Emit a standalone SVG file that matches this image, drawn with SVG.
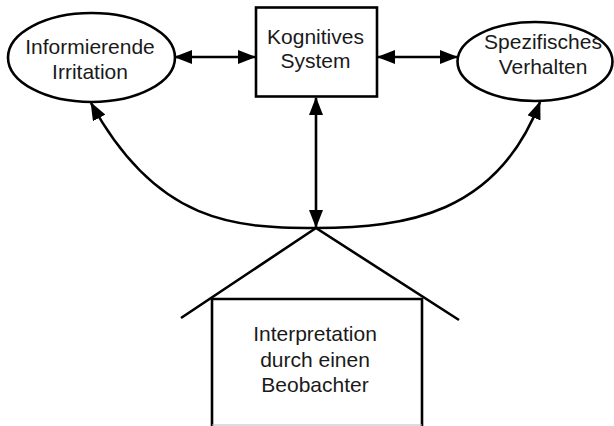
<svg xmlns="http://www.w3.org/2000/svg" width="614" height="426" viewBox="0 0 614 426">
  <style>
    .shape { fill: #fff; stroke: #000; stroke-width: 2.6; }
    .line { fill: none; stroke: #000; stroke-width: 2.6; }
    .label { font-family: "Liberation Sans", Arial, sans-serif; font-size: 21px; fill: #1a1a1a; text-anchor: middle; }
  </style>
  <defs>
    <marker id="head" viewBox="0 0 18 14" refX="17" refY="7" markerWidth="18" markerHeight="14" markerUnits="userSpaceOnUse" orient="auto-start-reverse">
      <path d="M0,0 L18,7 L0,14 z" fill="#000"/>
    </marker>
  </defs>
  <rect width="614" height="426" fill="#fff"/>

  <!-- connectors -->
  <g id="connectors">
    <line class="line" x1="175" y1="57" x2="255" y2="57" marker-start="url(#head)" marker-end="url(#head)"/>
    <line class="line" x1="378" y1="57" x2="457" y2="57" marker-start="url(#head)" marker-end="url(#head)"/>
    <line class="line" x1="316" y1="98" x2="316" y2="227" marker-start="url(#head)" marker-end="url(#head)"/>
    <path class="line" d="M316,228 C236,228 157,224 91,103" marker-end="url(#head)"/>
    <path class="line" d="M316,228 C406,228 497,214 540,102" marker-end="url(#head)"/>
  </g>

  <g id="informierende-irritation">
    <ellipse class="shape" cx="91.5" cy="57.5" rx="83.5" ry="44.5"/>
    <text class="label" x="90" y="53.5">Informierende</text>
    <text class="label" x="90" y="78.5">Irritation</text>
  </g>

  <g id="kognitives-system">
    <rect class="shape" x="256" y="7.5" width="121" height="89"/>
    <text class="label" x="315.5" y="43.5">Kognitives</text>
    <text class="label" x="315.5" y="68">System</text>
  </g>

  <g id="spezifisches-verhalten">
    <ellipse class="shape" cx="535" cy="61.5" rx="77.5" ry="39.5"/>
    <text class="label" x="543" y="49">Spezifisches</text>
    <text class="label" x="543" y="74">Verhalten</text>
  </g>

  <g id="beobachter">
    <polyline class="line" points="181,318 316,228 459,320"/>
    <path class="line" d="M212,426 V299 H422 V426"/>
    <line x1="212" y1="425" x2="422" y2="425" stroke="#bbb" stroke-width="1"/>
    <text class="label" x="315" y="341">Interpretation</text>
    <text class="label" x="315" y="366.5">durch einen</text>
    <text class="label" x="315" y="391.5">Beobachter</text>
  </g>
</svg>
